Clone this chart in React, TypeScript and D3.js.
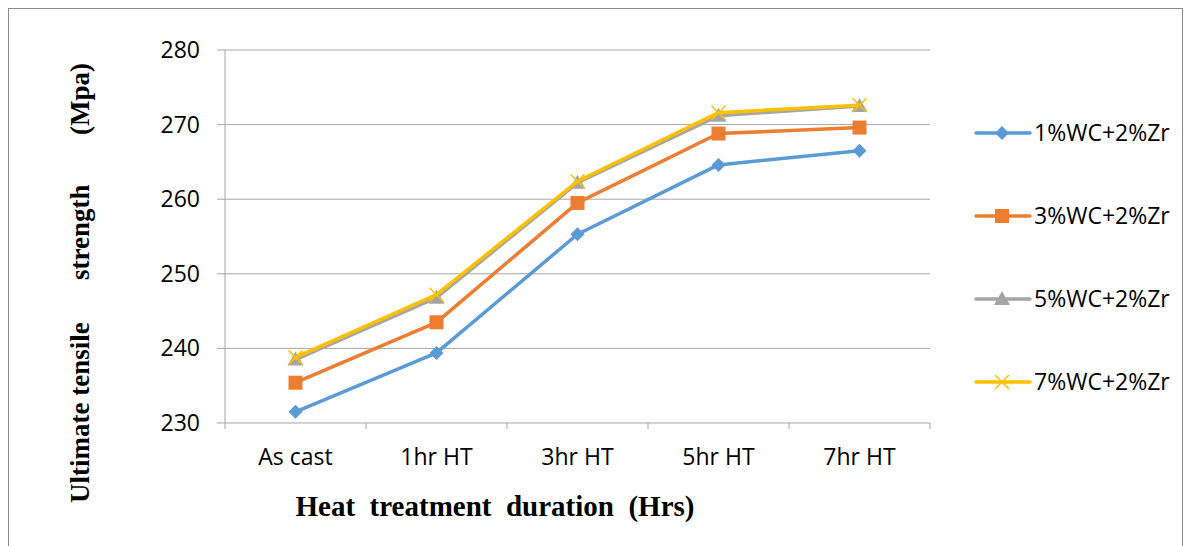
import React, { useEffect, useRef } from 'react';
import * as d3 from 'd3';

const categories = ['As cast', '1hr HT', '3hr HT', '5hr HT', '7hr HT'];
const seriesNames = ['1%WC+2%Zr', '3%WC+2%Zr', '5%WC+2%Zr', '7%WC+2%Zr'];
const wc1 = [231.5, 239.4, 255.3, 264.6, 266.5];
const wc3 = [235.4, 243.5, 259.5, 268.8, 269.6];
const wc5 = [238.5, 246.8, 262.2, 271.2, 272.5];
const wc7 = [238.8, 247.2, 262.4, 271.6, 272.6];
const yTicks = [230, 240, 250, 260, 270, 280];
const colors = ['#5B9BD5', '#ED7D31', '#A5A5A5', '#FFC000'];
const markers = ['diamond', 'square', 'triangle', 'cross'];

const App = () => {
    const svgRef = useRef<SVGSVGElement>(null);

    useEffect(() => {
        const svg = d3.select(svgRef.current).html('');
        const font = "'Open Sans', 'Liberation Sans', sans-serif";
        const serif = "'Liberation Serif', 'DejaVu Serif', serif";

        svg.append('rect')
            .attr('x', 0.5).attr('y', 0.5)
            .attr('width', 1174).attr('height', 560)
            .attr('fill', '#fff').attr('stroke', '#8c8c8c');

        const left = 217, top = 42, right = 922, bottom = 415;
        const x = d3.scaleBand().domain(categories).range([left, right]);
        const y = d3.scaleLinear().domain([230, 280]).range([bottom, top]);

        const g = svg.append('g');

        // grid
        g.selectAll('.grid').data(yTicks).enter().append('line')
            .attr('x1', left - 8).attr('x2', right)
            .attr('y1', d => y(d)).attr('y2', d => y(d))
            .attr('stroke', '#a6a6a6').attr('stroke-width', 1);

        g.append('line')
            .attr('x1', left).attr('x2', left)
            .attr('y1', top).attr('y2', bottom)
            .attr('stroke', '#a6a6a6');

        // x ticks at band edges
        const edges = categories.map(c => x(c) as number).concat([right]);
        g.selectAll('.xt').data(edges).enter().append('line')
            .attr('x1', d => d).attr('x2', d => d)
            .attr('y1', bottom).attr('y2', bottom + 6)
            .attr('stroke', '#a6a6a6');

        g.selectAll('.yl').data(yTicks).enter().append('text')
            .attr('x', left - 25).attr('y', d => y(d))
            .attr('dy', '0.35em').attr('text-anchor', 'end')
            .style('font-family', font).style('font-size', '23px')
            .attr('fill', '#000').text(d => d);

        g.selectAll('.xl').data(categories).enter().append('text')
            .attr('x', d => (x(d) as number) + x.bandwidth() / 2)
            .attr('y', bottom + 34)
            .attr('dy', '0.35em')
            .attr('text-anchor', 'middle')
            .style('font-family', font).style('font-size', '23px')
            .attr('fill', '#000').text(d => d);

        const all = [wc1, wc3, wc5, wc7];
        const line = d3.line<number>()
            .x((d, i) => (x(categories[i]) as number) + x.bandwidth() / 2)
            .y(d => y(d));

        const drawMarker = (sel: any, type: string, color: string, cx: number, cy: number) => {
            if (type === 'diamond') {
                sel.append('path')
                    .attr('d', `M${cx},${cy - 7}L${cx + 7},${cy}L${cx},${cy + 7}L${cx - 7},${cy}Z`)
                    .attr('fill', color);
            } else if (type === 'square') {
                sel.append('rect')
                    .attr('x', cx - 7).attr('y', cy - 7)
                    .attr('width', 14).attr('height', 14)
                    .attr('fill', color);
            } else if (type === 'triangle') {
                sel.append('path')
                    .attr('d', `M${cx},${cy - 8}L${cx + 8},${cy + 6}L${cx - 8},${cy + 6}Z`)
                    .attr('fill', color);
            } else {
                sel.append('path')
                    .attr('d', `M${cx - 7},${cy - 7}L${cx + 7},${cy + 7}M${cx - 7},${cy + 7}L${cx + 7},${cy - 7}`)
                    .attr('stroke', color).attr('stroke-width', 1.5).attr('fill', 'none');
            }
        };

        all.forEach((vals, s) => {
            g.append('path')
                .attr('d', line(vals))
                .attr('fill', 'none')
                .attr('stroke', colors[s])
                .attr('stroke-width', 3.5)
                .attr('stroke-linejoin', 'round')
                .attr('stroke-linecap', 'round');
            vals.forEach((v, i) => {
                drawMarker(g, markers[s], colors[s],
                    (x(categories[i]) as number) + x.bandwidth() / 2, y(v));
            });
        });

        // legend
        const legend = g.append('g');
        seriesNames.forEach((name, s) => {
            const ly = 125 + s * 83;
            legend.append('line')
                .attr('x1', 968).attr('x2', 1022)
                .attr('y1', ly).attr('y2', ly)
                .attr('stroke', colors[s]).attr('stroke-width', 3.5)
                .attr('stroke-linecap', 'round');
            drawMarker(legend, markers[s], colors[s], 994, ly);
            legend.append('text')
                .attr('x', 1026).attr('y', ly)
                .attr('dy', '0.35em')
                .style('font-family', font).style('font-size', '23px')
                .attr('fill', '#000').text(name);
        });

        g.append('text')
            .attr('x', 487).attr('y', 508)
            .attr('text-anchor', 'middle')
            .style('font-family', serif).style('font-size', '29px')
            .style('font-weight', 'bold').style('white-space', 'pre')
            .attr('fill', '#000')
            .text('Heat  treatment  duration  (Hrs)');

        // y-axis title, three word groups with wide gaps
        const yTitle = g.append('g').attr('transform', 'translate(81, 0) rotate(-90)');
        const yParts = [
            { t: 'Ultimate tensile', at: 495 },
            { t: 'strength', at: 272 },
            { t: '(Mpa)', at: 127 },
        ];
        yTitle.selectAll('text').data(yParts).enter().append('text')
            .attr('x', d => -d.at).attr('y', 0)
            .attr('text-anchor', 'start')
            .style('font-family', serif).style('font-size', '27px')
            .style('font-weight', 'bold')
            .attr('fill', '#000')
            .text(d => d.t);
    }, []);

    return <svg ref={svgRef} width={1175} height={540} style={{ display: 'block' }} />;
};

export default App;
